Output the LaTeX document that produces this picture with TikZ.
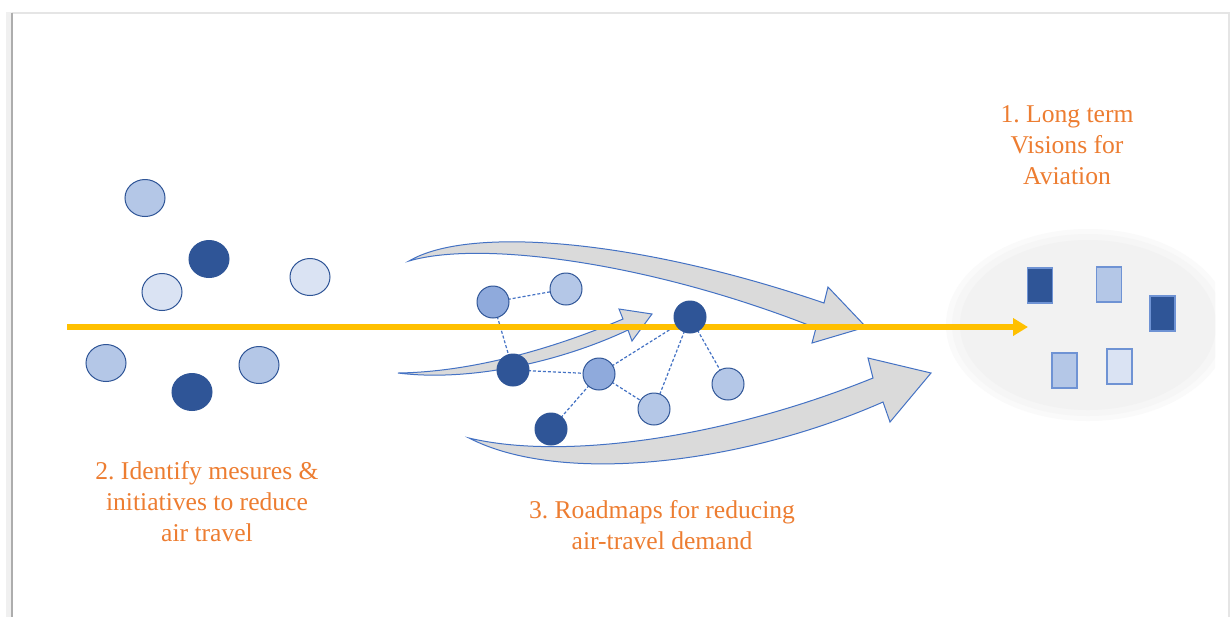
\documentclass[tikz,border=0pt]{standalone}
\usepackage{fontspec}
\setmainfont{Liberation Serif}
\newfontfamily\capfont{Liberation Serif}
\frenchspacing
\usetikzlibrary{shapes.geometric,arrows.meta}

\definecolor{dkblue}{HTML}{2F5597}
\definecolor{mdblue}{HTML}{8FAADC}
\definecolor{ltblue}{HTML}{B4C7E7}
\definecolor{vlblue}{HTML}{DAE3F3}
\definecolor{accent}{HTML}{4472C4}
\definecolor{boxedge}{HTML}{6F93D4}
\definecolor{axisgold}{HTML}{FFC000}
\definecolor{labelorange}{HTML}{ED7D31}
\definecolor{arrowgray}{HTML}{DADADA}

\tikzset{
  blob/.style={ellipse, draw=dkblue, line width=0.5pt, minimum width=20pt,
               minimum height=18.5pt, inner sep=0pt},
  netnode/.style={circle, draw=dkblue, line width=0.5pt, minimum size=16pt,
                  inner sep=0pt},
  darkfill/.style={fill=dkblue},
  midfill/.style={fill=mdblue},
  lightfill/.style={fill=ltblue},
  palefill/.style={fill=vlblue},
  goal/.style={rectangle, draw=boxedge, line width=0.8pt, minimum width=12.5pt,
               minimum height=17.5pt, inner sep=0pt},
  link/.style={draw=accent, line width=0.6pt, dash pattern=on 1.5pt off 1pt},
  blockarrow/.style={fill=arrowgray, draw=accent, line width=0.5pt, line join=miter},
  axis/.style={draw=axisgold, line width=2.6pt,
               -{Triangle[length=7.5pt,width=8.5pt]}},
  caption/.style={text=labelorange, align=center,
                  font=\capfont\fontsize{12.8}{15.5}\selectfont, inner sep=0pt}
}

\begin{document}
\begin{tikzpicture}[x=0.5pt,y=-0.5pt]
\useasboundingbox (0,0) rectangle (1231,617);
\fill[white] (0,0) rectangle (1231,617);

% page frame with a soft shadow on the left
\draw[black!6, line width=3pt] (9,12) -- (9,617);
\draw[black!10, line width=1.2pt] (12,13) -- (1229,13) -- (1229,617);
\draw[black!32, line width=1pt] (12,13) -- (12,617);

% vision cloud with a soft rim
\begin{scope}
  \clip (900,200) rectangle (1215,450);
  \fill[black!2]   (1088,325) ellipse [x radius=142, y radius=96];
  \fill[black!3.5] (1088,325) ellipse [x radius=136, y radius=91];
  \fill[black!5]   (1088,325) ellipse [x radius=128, y radius=85];
\end{scope}

% long-term goals
\node[goal, darkfill]  (g1) at (1040,285.5) {};
\node[goal, lightfill] (g2) at (1109,284.5) {};
\node[goal, darkfill]  (g3) at (1162.5,313.5) {};
\node[goal, lightfill] (g4) at (1064.5,370.5) {};
\node[goal, palefill]  (g5) at (1119.5,366.5) {};

% large curved arrows
\draw[blockarrow] (409,261) .. controls (470,225) and (640,240) .. (824,303)
  -- (828,287) -- (866,327) -- (812,343) -- (816,328)
  .. controls (650,262) and (480,240) .. cycle;
\draw[blockarrow] (469,438) .. controls (560,460) and (720,440) .. (873,378)
  -- (868,358) -- (931,373) -- (890,422) -- (883,402)
  .. controls (740,465) and (560,485) .. cycle;

% scattered measures
\node[blob, lightfill] (m1) at (145,198) {};
\node[blob, darkfill]  (m2) at (209,259) {};
\node[blob, palefill]  (m3) at (162,292) {};
\node[blob, palefill]  (m4) at (310,277) {};
\node[blob, lightfill] (m5) at (106,363) {};
\node[blob, darkfill]  (m6) at (192,392) {};
\node[blob, lightfill] (m7) at (259,365) {};

% roadmap network
\coordinate (p1) at (493,302);
\coordinate (p2) at (566,289);
\coordinate (p3) at (513,370);
\coordinate (p4) at (599,374);
\coordinate (p5) at (551,429);
\coordinate (p6) at (690,317);
\coordinate (p7) at (654,409);
\coordinate (p8) at (728,384);

\draw[link] (p1) -- (p2);
\draw[link] (p1) -- (p3);
\draw[link] (p3) -- (p4);
\draw[link] (p4) -- (p5);
\draw[link] (p4) -- (p6);
\draw[link] (p4) -- (p7);
\draw[link] (p6) -- (p7);
\draw[link] (p6) -- (p8);

% small curved arrow
\draw[blockarrow] (398,373) .. controls (470,372) and (550,350) .. (623,319)
  -- (619,309) -- (652,314) -- (632,341) -- (628,330)
  .. controls (560,362) and (470,382) .. cycle;

% time axis
\coordinate (axisstart) at (67,327);
\coordinate (axisend) at (1028,327);
\draw[axis] (axisstart) -- (axisend);

\node[netnode, midfill]   (n1) at (p1) {};
\node[netnode, lightfill] (n2) at (p2) {};
\node[netnode, darkfill]  (n3) at (p3) {};
\node[netnode, midfill]   (n4) at (p4) {};
\node[netnode, darkfill]  (n5) at (p5) {};
\node[netnode, darkfill]  (n6) at (p6) {};
\node[netnode, lightfill] (n7) at (p7) {};
\node[netnode, lightfill] (n8) at (p8) {};

% captions
\node[caption] (c1) at (1067,145) {1. Long term\\Visions for\\Aviation};
\node[caption] (c2) at (207,502) {2. Identify mesures \&\\initiatives to reduce\\air travel};
\node[caption] (c3) at (662,525) {3. Roadmaps for reducing\\air-travel demand};
\end{tikzpicture}
\end{document}
